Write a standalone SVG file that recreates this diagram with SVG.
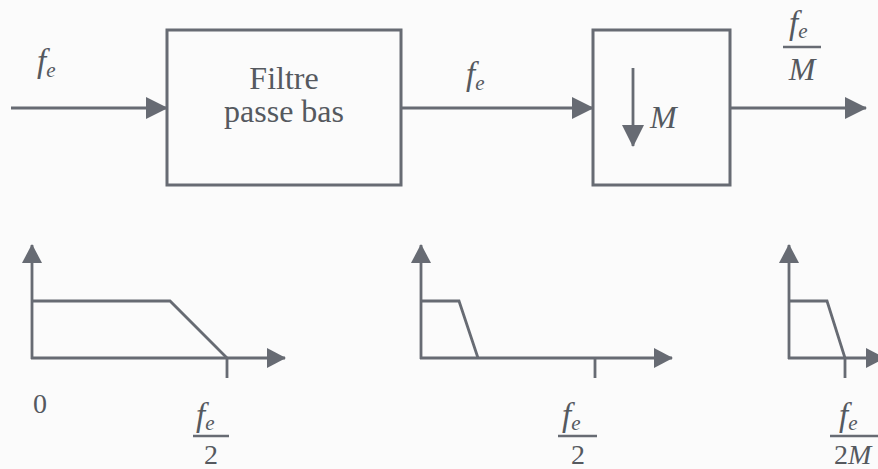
<svg xmlns="http://www.w3.org/2000/svg" width="878" height="469" viewBox="0 0 878 469">
<defs>
<style>
.ln{stroke:#676b73;stroke-width:2.8;fill:none}
.bx{stroke:#676b73;stroke-width:3;fill:none}
.t{font-family:"Liberation Serif","Times New Roman",serif;fill:#55595f}
.i{font-style:italic}
.big{font-size:33px}
.sub{font-size:21px}
.fb{stroke:#676b73;stroke-width:2.4}
</style>
<marker id="ah" viewBox="0 0 22 22" markerUnits="userSpaceOnUse" markerWidth="22" markerHeight="22" refX="21" refY="11" orient="auto">
<path d="M0,0 L22,11 L0,22 z" fill="#676b73"/>
</marker>
<marker id="ax" viewBox="0 0 19 20" markerUnits="userSpaceOnUse" markerWidth="19" markerHeight="20" refX="18" refY="10" orient="auto">
<path d="M0,0 L19,10 L0,20 z" fill="#676b73"/>
</marker>
</defs>
<rect x="0" y="0" width="878" height="469" fill="#fbfbfb"/>

<g id="filtre">
<rect class="bx" x="167" y="30" width="234" height="155"/>
<text class="t" font-size="32" x="284" y="89" text-anchor="middle">Filtre</text>
<text class="t" font-size="32" x="284" y="122" text-anchor="middle">passe bas</text>
</g>

<g id="decimation">
<rect class="bx" x="593" y="30" width="137" height="155"/>
<line class="ln" x1="633" y1="68" x2="633" y2="146" marker-end="url(#ah)"/>
<text class="t i" font-size="32" x="650" y="128">M</text>
</g>

<g id="connectors">
<line class="ln" x1="11" y1="108" x2="167" y2="108" marker-end="url(#ah)"/>
<line class="ln" x1="401" y1="108" x2="593" y2="108" marker-end="url(#ah)"/>
<line class="ln" x1="730" y1="108" x2="866" y2="108" marker-end="url(#ah)"/>
</g>

<g id="labels-top">
<text class="t i" x="37" y="72"><tspan class="big">f</tspan><tspan class="sub" dy="5">e</tspan></text>
<text class="t i" x="466" y="85"><tspan class="big">f</tspan><tspan class="sub" dy="5">e</tspan></text>
<text class="t i" x="789" y="34"><tspan class="big">f</tspan><tspan class="sub" dy="4">e</tspan></text>
<line class="fb" x1="783" y1="47" x2="821" y2="47"/>
<text class="t i" font-size="32" x="802" y="80" text-anchor="middle">M</text>
</g>

<g id="spectre1">
<line class="ln" x1="32" y1="359" x2="32" y2="245" marker-end="url(#ax)"/>
<line class="ln" x1="31" y1="358" x2="285" y2="358" marker-end="url(#ax)"/>
<polyline class="ln" points="32,301 170,301 227,358"/>
<line class="ln" x1="227" y1="358" x2="227" y2="378"/>
<text class="t" font-size="28" x="40" y="413" text-anchor="middle">0</text>
<text class="t i" x="196" y="426"><tspan class="big">f</tspan><tspan class="sub" dy="4">e</tspan></text>
<line class="fb" x1="193" y1="436" x2="229" y2="436"/>
<text class="t" font-size="28" x="211" y="464" text-anchor="middle">2</text>
</g>

<g id="spectre2">
<line class="ln" x1="421" y1="359" x2="421" y2="245" marker-end="url(#ax)"/>
<line class="ln" x1="420" y1="358" x2="672" y2="358" marker-end="url(#ax)"/>
<polyline class="ln" points="421,301 459,301 478,358"/>
<line class="ln" x1="595" y1="358" x2="595" y2="378"/>
<text class="t i" x="562" y="426"><tspan class="big">f</tspan><tspan class="sub" dy="4">e</tspan></text>
<line class="fb" x1="558" y1="436" x2="597" y2="436"/>
<text class="t" font-size="28" x="578" y="464" text-anchor="middle">2</text>
</g>

<g id="spectre3">
<line class="ln" x1="789" y1="359" x2="789" y2="245" marker-end="url(#ax)"/>
<line class="ln" x1="788" y1="358" x2="884" y2="358" marker-end="url(#ax)"/>
<polyline class="ln" points="789,301 827,301 845,358"/>
<line class="ln" x1="845" y1="358" x2="845" y2="378"/>
<text class="t i" x="839" y="426"><tspan class="big">f</tspan><tspan class="sub" dy="4">e</tspan></text>
<line class="fb" x1="830" y1="436" x2="880" y2="436"/>
<text class="t" font-size="28" x="834" y="464">2<tspan class="i">M</tspan></text>
</g>
</svg>
